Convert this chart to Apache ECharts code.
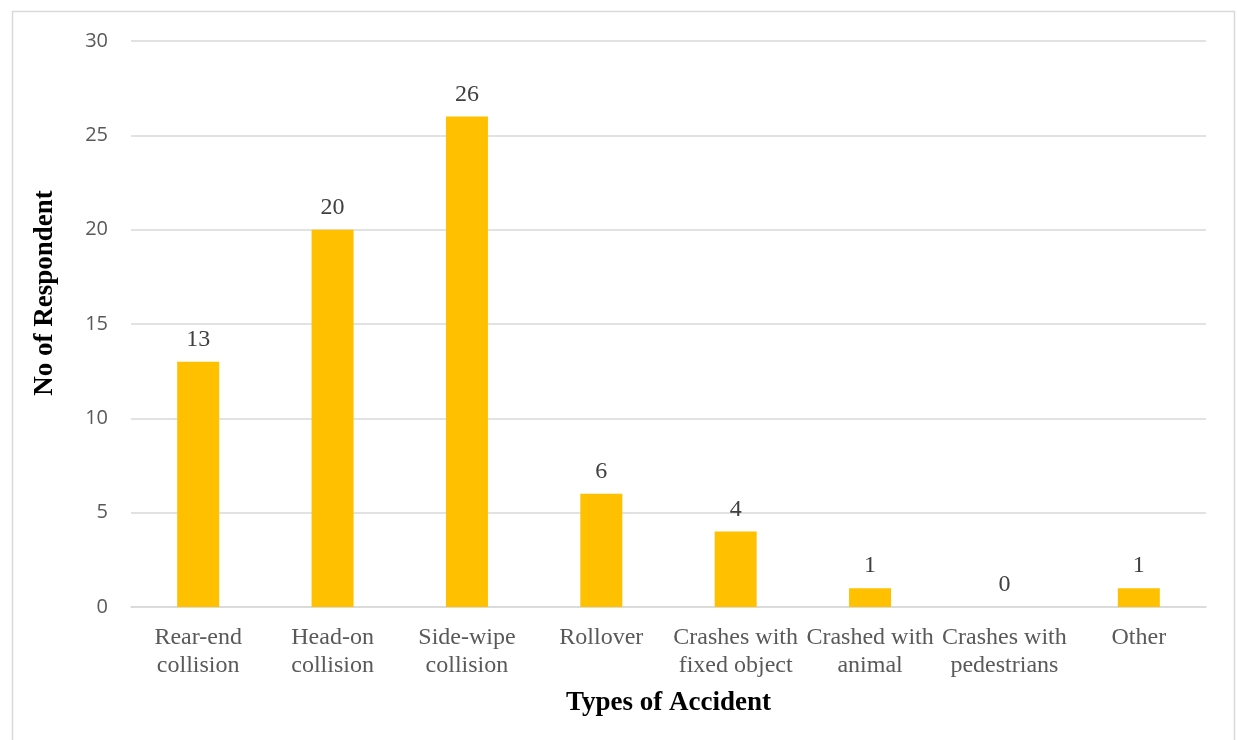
<!DOCTYPE html>
<html>
<head>
<meta charset="utf-8">
<script src="https://cdn.jsdelivr.net/npm/echarts@6/dist/echarts.min.js"></script>
<style>
  html, body { margin: 0; padding: 0; background: #fff; }
  #chart { width: 1237px; height: 740px; }
</style>
</head>
<body>
<div id="chart"></div>
<script>
// Types of accident reported by respondents
const categories = [
  'Rear-end\ncollision',
  'Head-on\ncollision',
  'Side-wipe\ncollision',
  'Rollover',
  'Crashes with\nfixed object',
  'Crashed with\nanimal',
  'Crashes with\npedestrians',
  'Other'
];
const respondents = [13, 20, 26, 6, 4, 1, 0, 1];
const yTicks = { min: 0, max: 30, interval: 5 };

const serif = '"Liberation Serif", "Times New Roman", serif';

const chart = echarts.init(document.getElementById('chart'));
chart.setOption({
  animation: false,
  backgroundColor: '#ffffff',
  graphic: [
    {
      type: 'rect',
      shape: { x: 12.5, y: 11.5, width: 1222, height: 740 },
      style: { fill: 'none', stroke: '#d9d9d9', lineWidth: 1.5 },
      silent: true
    },
    {
      type: 'text',
      x: 45, y: 293,
      rotation: Math.PI / 2,
      style: {
        text: 'No of Respondent',
        font: 'bold 27px ' + serif,
        fill: '#000000',
        align: 'center',
        verticalAlign: 'middle'
      }
    }
  ],
  grid: { left: 131, right: 31, top: 41, bottom: 133, containLabel: false },
  xAxis: {
    type: 'category',
    data: categories,
    name: 'Types of Accident',
    nameLocation: 'middle',
    nameGap: 83,
    nameTextStyle: {
      fontFamily: serif,
      fontWeight: 'bold',
      fontSize: 27,
      color: '#000000'
    },
    axisLine: { lineStyle: { color: '#d9d9d9', width: 1.5 } },
    axisTick: { show: false },
    axisLabel: {
      interval: 0,
      margin: 17,
      fontFamily: serif,
      fontSize: 24,
      lineHeight: 28,
      color: '#595959'
    }
  },
  yAxis: {
    type: 'value',
    min: yTicks.min,
    max: yTicks.max,
    interval: yTicks.interval,
    axisLine: { show: false },
    axisTick: { show: false },
    splitLine: { lineStyle: { color: '#d9d9d9', width: 1.5 } },
    axisLabel: {
      margin: 23,
      fontFamily: '"Open Sans", "Liberation Sans", sans-serif',
      fontSize: 20,
      color: '#595959'
    }
  },
  series: [{
    type: 'bar',
    data: respondents,
    barWidth: 42,
    itemStyle: { color: '#FFC000' },
    label: {
      show: true,
      position: 'top',
      distance: 10,
      fontFamily: serif,
      fontSize: 24,
      color: '#404040'
    }
  }]
});
</script>
</body>
</html>
